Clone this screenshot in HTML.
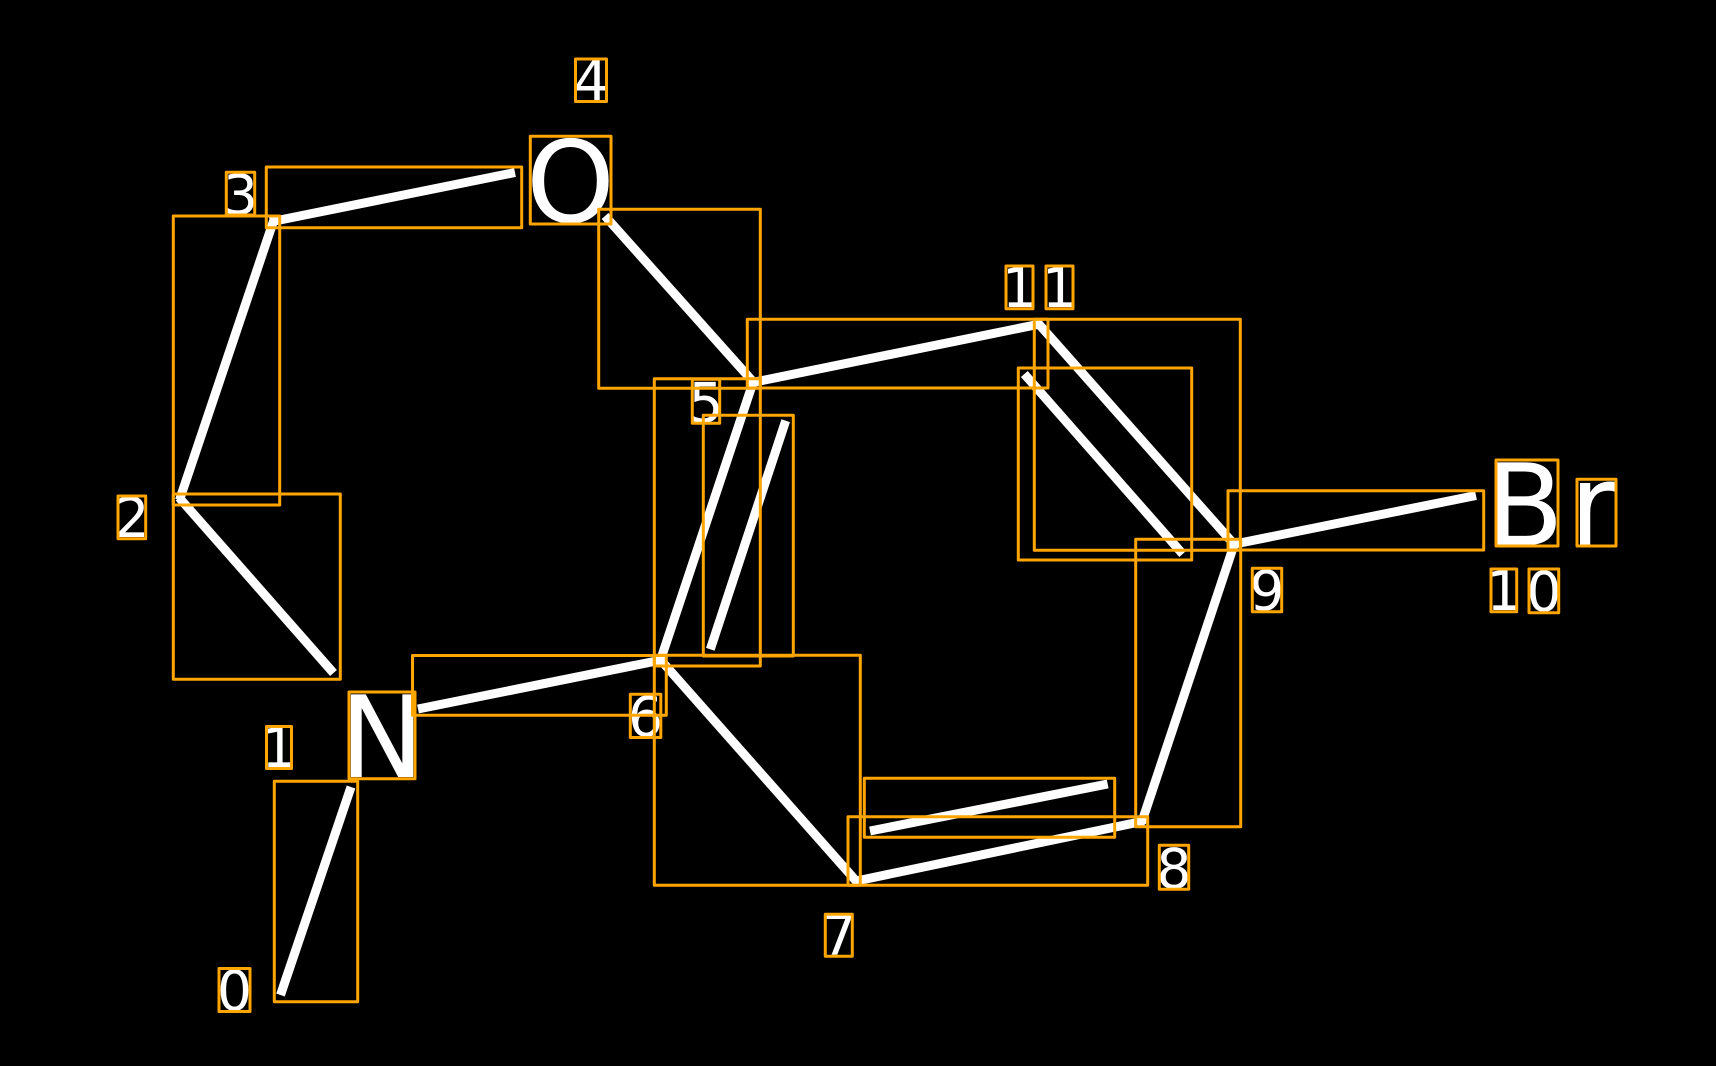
<!DOCTYPE html>
<html>
<head>
<meta charset="utf-8">
<style>
html,body{margin:0;padding:0;background:#000;width:1716px;height:1066px;overflow:hidden}
svg{display:block}
text{font-family:"DejaVu Sans",sans-serif;fill:#fff;text-anchor:middle}
.d{font-size:55px}
.a{font-size:113px}
</style>
</head>
<body>
<svg width="1716" height="1066" viewBox="0 0 1716 1066" xmlns="http://www.w3.org/2000/svg">
<rect width="1716" height="1066" fill="#000"/>
<g stroke="#fff" stroke-width="9" fill="none" stroke-linecap="butt">
<line x1="280.5" y1="995" x2="351" y2="787"/>
<line x1="333.5" y1="673" x2="179" y2="497.5"/>
<line x1="179.5" y1="500" x2="273.5" y2="221"/>
<line x1="270" y1="222" x2="515" y2="172.5"/>
<line x1="605" y1="216" x2="756" y2="385"/>
<line x1="753.5" y1="381" x2="660.5" y2="660"/>
<line x1="785.7" y1="420.7" x2="710.3" y2="649.3"/>
<line x1="664" y1="659.5" x2="418" y2="709"/>
<line x1="658" y1="657" x2="857" y2="882"/>
<line x1="854" y1="881.5" x2="1144" y2="821"/>
<line x1="870" y1="831" x2="1107.7" y2="784"/>
<line x1="1141.5" y1="823" x2="1234" y2="545"/>
<line x1="1230" y1="545" x2="1476" y2="495.5"/>
<line x1="1236.5" y1="547" x2="1037" y2="322"/>
<line x1="1024.3" y1="374" x2="1182.7" y2="554"/>
<line x1="750" y1="383" x2="1040" y2="324"/>
</g>
<text class="d" x="234.5" y="1010">0</text>
<text class="d" x="279" y="767">1</text>
<text class="d" x="132" y="537">2</text>
<text class="d" x="240.5" y="214">3</text>
<text class="d" x="591" y="100">4</text>
<text class="d" x="706" y="422">5</text>
<text class="d" x="645.5" y="736">6</text>
<text class="d" x="839" y="955">7</text>
<text class="d" x="1174" y="888">8</text>
<text class="d" x="1267" y="610">9</text>
<text class="d" x="1504" y="610">1</text>
<text class="d" x="1544" y="611">0</text>
<text class="d" x="1019.5" y="307">1</text>
<text class="d" x="1059.5" y="307">1</text>
<text class="a" x="382" y="777">N</text>
<text class="a" x="570.5" y="222">O</text>
<text class="a" x="1525" y="545">B</text>
<text class="a" x="1593" y="545">r</text>
<g stroke="#ffa500" stroke-width="3" fill="none" stroke-linejoin="round">
<rect x="274.3" y="781.3" width="83.4" height="220.4"/>
<rect x="173.3" y="494" width="167" height="185.3"/>
<rect x="173.3" y="216" width="106.4" height="289"/>
<rect x="266.3" y="167" width="255.4" height="60.7"/>
<rect x="598.7" y="209.3" width="161.6" height="179"/>
<rect x="654.3" y="378.7" width="106" height="287.3"/>
<rect x="703.3" y="415.3" width="90" height="240.7"/>
<rect x="412.5" y="655.5" width="253.8" height="59.8"/>
<rect x="654.3" y="655.3" width="206" height="230"/>
<rect x="848" y="816.7" width="299.7" height="68.6"/>
<rect x="864.3" y="778.3" width="250.4" height="59"/>
<rect x="1135.7" y="539.3" width="105" height="287.4"/>
<rect x="1228" y="490.7" width="255.7" height="59.3"/>
<rect x="1034.3" y="319.3" width="206" height="231"/>
<rect x="1018.3" y="368" width="173.4" height="192"/>
<rect x="747.3" y="319.3" width="300.7" height="68.7"/>
<rect x="219" y="968.5" width="31" height="43"/>
<rect x="266.5" y="726.5" width="25" height="42"/>
<rect x="118" y="496" width="27.7" height="42.7"/>
<rect x="226.3" y="172.3" width="28.4" height="42.7"/>
<rect x="575.5" y="59" width="31" height="42.5"/>
<rect x="692.3" y="379.3" width="27.4" height="44"/>
<rect x="630.3" y="694.2" width="30.5" height="43.3"/>
<rect x="825.3" y="914.3" width="27" height="42"/>
<rect x="1159.3" y="845.3" width="29.4" height="44"/>
<rect x="1252.3" y="568.3" width="29.4" height="43.4"/>
<rect x="1491" y="569" width="25.7" height="42.7"/>
<rect x="1529" y="569" width="29.7" height="43.7"/>
<rect x="1006" y="266" width="27" height="42.7"/>
<rect x="1046" y="266" width="27" height="42.7"/>
<rect x="349" y="692" width="66" height="86.7"/>
<rect x="530.3" y="136.3" width="80.7" height="87.7"/>
<rect x="1496" y="460" width="62" height="86"/>
<rect x="1577" y="479.3" width="39" height="66.7"/>
</g>
</svg>
</body>
</html>
